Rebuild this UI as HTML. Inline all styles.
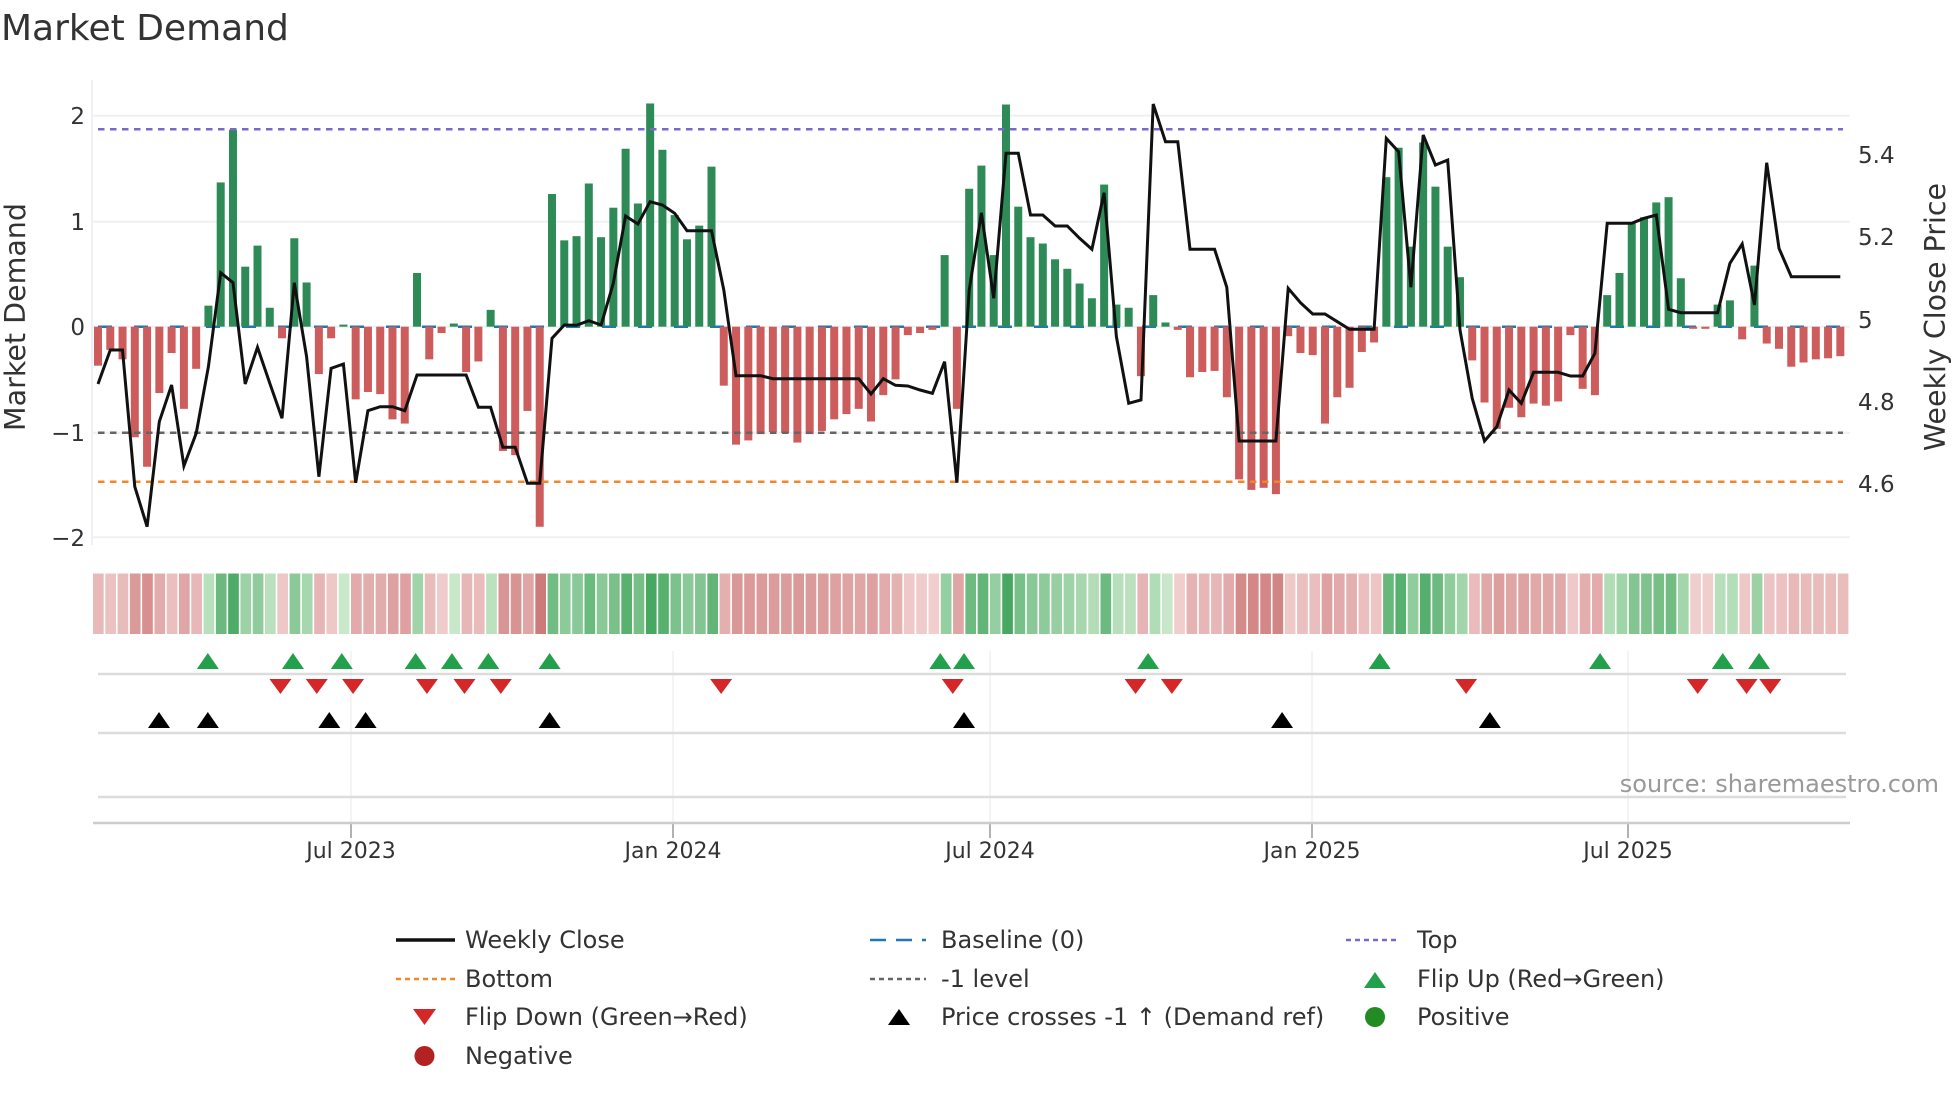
<!DOCTYPE html>
<html><head><meta charset="utf-8">
<style>
html,body{margin:0;padding:0;background:#fff;}
svg{display:block;}
text{font-family:"DejaVu Sans","Liberation Sans",sans-serif;fill:#333;}
</style></head>
<body>
<svg id="s" width="1960" height="1102" viewBox="0 0 1960 1102" xmlns="http://www.w3.org/2000/svg">
<rect width="1960" height="1102" fill="#fff"/>
<text x="1" y="40" font-size="36" fill="#333">Market Demand</text>
<g id="grid"></g>
<g id="bars"></g>
<g id="lines"></g>
<g transform="translate(0,-3)"><g id="strip"></g></g>
<g transform="translate(0,-4)"><g id="events"></g></g>
<text transform="translate(25,317) rotate(-90)" text-anchor="middle" font-size="28.5">Market Demand</text>
<text transform="translate(1945,317) rotate(-90)" text-anchor="middle" font-size="28.5">Weekly Close Price</text>
<g font-size="23" text-anchor="end">
<text x="85" y="124">2</text>
<text x="85" y="230">1</text>
<text x="85" y="335">0</text>
<text x="85" y="441">−1</text>
<text x="85" y="546">−2</text>
</g>
<g font-size="23">
<text x="1858" y="163">5.4</text>
<text x="1858" y="245">5.2</text>
<text x="1858" y="328">5</text>
<text x="1858" y="410">4.8</text>
<text x="1858" y="492">4.6</text>
</g>
<g transform="translate(0,-4)">
<g font-size="22" text-anchor="middle">
<text x="351" y="862">Jul 2023</text>
<text x="673" y="862">Jan 2024</text>
<text x="990" y="862">Jul 2024</text>
<text x="1312" y="862">Jan 2025</text>
<text x="1628" y="862">Jul 2025</text>
</g>
<text x="1939" y="796" font-size="24" text-anchor="end" style="fill:#999">source: sharemaestro.com</text>
<g font-size="24">
<line x1="396" y1="944" x2="455" y2="944" stroke="#111" stroke-width="3.5"/>
<text x="465" y="952">Weekly Close</text>
<line x1="870" y1="944" x2="926" y2="944" stroke="#1f77b4" stroke-width="2.5" stroke-dasharray="16 10"/>
<text x="941" y="952">Baseline (0)</text>
<line x1="1346" y1="944" x2="1400" y2="944" stroke="#7b68c8" stroke-width="2.5" stroke-dasharray="5 4"/>
<text x="1417" y="952">Top</text>
<line x1="396" y1="983" x2="455" y2="983" stroke="#f0882a" stroke-width="2.5" stroke-dasharray="5 4"/>
<text x="465" y="991">Bottom</text>
<line x1="870" y1="983" x2="926" y2="983" stroke="#666" stroke-width="2.5" stroke-dasharray="5 4"/>
<text x="941" y="991">-1 level</text>
<polygon points="1364,992 1386,992 1375,976" fill="#22a04b"/>
<text x="1417" y="991">Flip Up (Red→Green)</text>
<polygon points="413,1013 436,1013 424.5,1029" fill="#d62728"/>
<text x="465" y="1029">Flip Down (Green→Red)</text>
<polygon points="888,1029 910,1029 899,1013" fill="#000"/>
<text x="941" y="1029">Price crosses -1 ↑ (Demand ref)</text>
<circle cx="1375" cy="1021" r="10" fill="#228b22"/>
<text x="1417" y="1029">Positive</text>
<circle cx="424.5" cy="1060" r="10" fill="#b22222"/>
<text x="465" y="1068">Negative</text>
</g>
</g>
</svg>
<script>
var NS="http://www.w3.org/2000/svg";
function el(p,t,a){var e=document.createElementNS(NS,t);for(var k in a)e.setAttribute(k,a[k]);document.getElementById(p).appendChild(e);return e;}
var vals=[-0.37,-0.22,-0.31,-1.05,-1.33,-0.63,-0.25,-0.78,-0.40,0.20,1.37,1.87,0.57,0.77,0.18,-0.11,0.84,0.42,-0.45,-0.11,0.02,-0.69,-0.62,-0.64,-0.88,-0.92,0.51,-0.31,-0.06,0.03,-0.43,-0.33,0.16,-1.18,-1.22,-0.80,-1.9,1.26,0.82,0.86,1.36,0.85,1.13,1.69,1.17,2.12,1.68,1.06,0.83,0.96,1.52,-0.56,-1.12,-1.08,-1.02,-1.0,-1.01,-1.1,-1.02,-0.99,-0.88,-0.83,-0.78,-0.9,-0.65,-0.5,-0.08,-0.06,-0.03,0.68,-0.78,1.31,1.53,0.68,2.11,1.14,0.85,0.79,0.64,0.55,0.41,0.27,1.35,0.21,0.18,-0.47,0.30,0.04,-0.03,-0.48,-0.43,-0.42,-0.67,-1.45,-1.55,-1.53,-1.59,-0.09,-0.25,-0.27,-0.92,-0.67,-0.58,-0.24,-0.15,1.42,1.70,0.76,1.75,1.33,0.76,0.47,-0.32,-0.72,-0.97,-0.77,-0.86,-0.73,-0.75,-0.71,-0.08,-0.59,-0.65,0.30,0.51,0.98,1.04,1.18,1.23,0.46,-0.02,-0.02,0.21,0.25,-0.12,0.58,-0.16,-0.21,-0.38,-0.34,-0.31,-0.30,-0.28];
var L=[882,780,780,1190,1310,995,885,1128,1030,830,548,578,882,772,880,985,578,800,1160,835,822,1178,962,950,950,962,855,855,855,855,855,952,952,1072,1072,1180,1180,745,705,
706,692,705,580,378,402,335,345,370,422,422,422,600,857,857,857,866,866,866,866,866,866,866,866,912,866,886,888,900,910,815,1178,600,368,625,190,190,375,375,
408,408,445,478,308,740,940,930,42,155,155,478,478,478,592,1053,1053,1053,1053,595,638,672,672,695,718,718,718,145,185,592,135,225,210,720,925,1053,1010,900,
940,847,847,847,858,858,790,400,400,400,385,375,658,668,668,668,668,520,462,645,218,475,560,560,560,560,560];
var X0=98,DX=12.27,Z=326.7,U=105.3,XR=1850;
[115.7,221.7,326.7,432.7,537.3].forEach(function(y){el("grid","line",{x1:92,x2:XR,y1:y,y2:y,stroke:"#eef0f3","stroke-width":2});});
el("grid","line",{x1:92,x2:92,y1:80,y2:545,stroke:"#eef0f3","stroke-width":2});
el("grid","line",{x1:98,x2:1843,y1:Z,y2:Z,stroke:"#1f77b4","stroke-width":2.5,"stroke-dasharray":"14 22"});
for(var i=0;i<vals.length;i++){var v=vals[i],x=X0+DX*i-4,h=Math.abs(v)*U;
el("bars","rect",{x:x,y:v>=0?Z-h:Z,width:8,height:Math.max(h,1),fill:v>=0?"#2e8b57":"#cd5c5c"});}
el("lines","line",{x1:98,x2:1843,y1:129.3,y2:129.3,stroke:"#7b68c8","stroke-width":2.5,"stroke-dasharray":"6.5 5.5"});
el("lines","line",{x1:98,x2:1843,y1:432.7,y2:432.7,stroke:"#666","stroke-width":2.5,"stroke-dasharray":"6.5 5.5"});
el("lines","line",{x1:98,x2:1843,y1:481.7,y2:481.7,stroke:"#f0882a","stroke-width":2.5,"stroke-dasharray":"6.5 5.5"});
var pts=[];for(var i=0;i<L.length;i++){pts.push((X0+DX*i).toFixed(1)+","+(90+L[i]/3).toFixed(1));}
el("lines","polyline",{points:pts.join(" "),fill:"none",stroke:"#111","stroke-width":3});
function mix(a,b,t){return "rgb("+a.map(function(c,k){return Math.round(c+(b[k]-c)*t);}).join(",")+")";}
var CW=(XR-93)/vals.length;
for(var i=0;i<vals.length;i++){var v=vals[i],t=Math.pow(Math.min(Math.abs(v)/2,1),0.8);
var c=v>=0?mix([205,234,205],[72,168,98],t):mix([242,208,208],[204,118,118],t);
el("strip","rect",{x:93+CW*i,y:576.5,width:CW-1.6,height:60.5,fill:c});}
[351,673,990,1312,1628].forEach(function(x){el("events","line",{x1:x,x2:x,y1:655,y2:827,stroke:"#eef0f3","stroke-width":1.5});el("events","line",{x1:x,x2:x,y1:827,y2:842,stroke:"#999","stroke-width":1.5});});
[678,737,801].forEach(function(y){el("events","line",{x1:98,x2:1846,y1:y,y2:y,stroke:"#dcdcdc","stroke-width":2.5});});
el("events","line",{x1:93,x2:XR,y1:827,y2:827,stroke:"#ccc","stroke-width":2.5});
var S=1.252;
[166,234,273,332,361,390,439,751,770,917,1102,1278,1376,1405].forEach(function(d){var x=d*S;el("events","polygon",{points:(x-11)+",673 "+(x+11)+",673 "+x+",657",fill:"#22a04b"});});
[224,253,282,341,371,400,576,761,907,936,1171,1356,1395,1414].forEach(function(d){var x=d*S;el("events","polygon",{points:(x-11)+",683 "+(x+11)+",683 "+x+",698",fill:"#d62728"});});
[127,166,263,292,439,770,1024,1190].forEach(function(d){var x=d*S;el("events","polygon",{points:(x-11)+",732 "+(x+11)+",732 "+x+",716",fill:"#000"});});
</script>
</body></html>
